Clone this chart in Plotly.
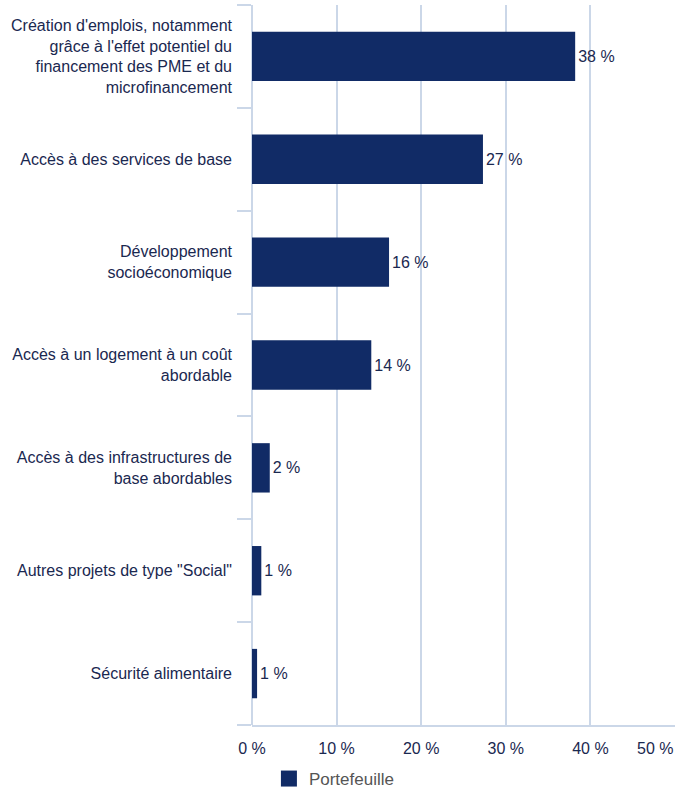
import plotly.graph_objects as go

# Répartition du portefeuille par catégorie sociale (en %)
categories = [
    "Création d'emplois, notamment<br>grâce à l'effet potentiel du<br>financement des PME et du<br>microfinancement",
    "Accès à des services de base",
    "Développement<br>socioéconomique",
    "Accès à un logement à un coût<br>abordable",
    "Accès à des infrastructures de<br>base abordables",
    "Autres projets de type \"Social\"",
    "Sécurité alimentaire",
]
values = [38.2, 27.3, 16.2, 14.1, 2.1, 1.1, 0.6]
series_name = "Portefeuille"
x_ticks = [0, 10, 20, 30, 40]
x_ticktext = ["0 %", "10 %", "20 %", "30 %", "40 %"]

NAVY = "#112b66"
TEXT = "#1a2850"
GRID = "#cbd7e8"
FONT = "Liberation Sans, Arial, sans-serif"

fig = go.Figure()
fig.add_trace(go.Bar(
    y=categories,
    x=values,
    orientation="h",
    name=series_name,
    legendgroup="pf",
    marker=dict(color=NAVY, line=dict(width=0)),
    text=[f"{round(v):.0f} %" for v in values],
    textposition="outside",
    textfont=dict(family=FONT, size=16, color=TEXT),
    cliponaxis=False,
    showlegend=False,
))
# Legend entry with a larger square swatch for the same series
fig.add_trace(go.Scatter(
    x=[None], y=[None], mode="markers", name=series_name, legendgroup="pf",
    marker=dict(symbol="square", size=16, color=NAVY),
    showlegend=True, hoverinfo="skip",
))

fig.update_layout(
    width=675, height=794,
    margin=dict(l=252, r=0, t=5, b=69, autoexpand=False),
    paper_bgcolor="white", plot_bgcolor="white",
    bargap=0.52,
    font=dict(family=FONT, size=16, color=TEXT),
    showlegend=True,
    legend=dict(
        orientation="h", x=0.04, y=-0.075, xanchor="left", yanchor="middle",
        font=dict(family=FONT, size=17, color="#555555"),
        itemwidth=30,
    ),
    xaxis=dict(
        range=[0, 50], tickvals=x_ticks, ticktext=x_ticktext,
        showgrid=True, gridcolor=GRID, gridwidth=2,
        zeroline=True, zerolinecolor=GRID, zerolinewidth=2,
        showline=True, linecolor=GRID, linewidth=2,
        ticks="", ticklabelstandoff=8,
        tickfont=dict(family=FONT, size=16, color=TEXT),
        fixedrange=True,
    ),
    yaxis=dict(
        categoryorder="array", categoryarray=categories[::-1],
        tickson="boundaries", ticks="outside", ticklen=14,
        tickcolor=GRID, tickwidth=2,
        showgrid=False, showline=False, zeroline=False,
        tickfont=dict(family=FONT, size=16, color=TEXT),
        ticklabelstandoff=19,
    ),
)

# Last tick label at the right edge, kept inside the page
fig.add_annotation(
    x=50, xref="x", y=0, yref="paper", yshift=-23,
    text="50 %", showarrow=False, xanchor="right", yanchor="middle",
    font=dict(family=FONT, size=16, color=TEXT),
)

fig.write_html("out.html")
